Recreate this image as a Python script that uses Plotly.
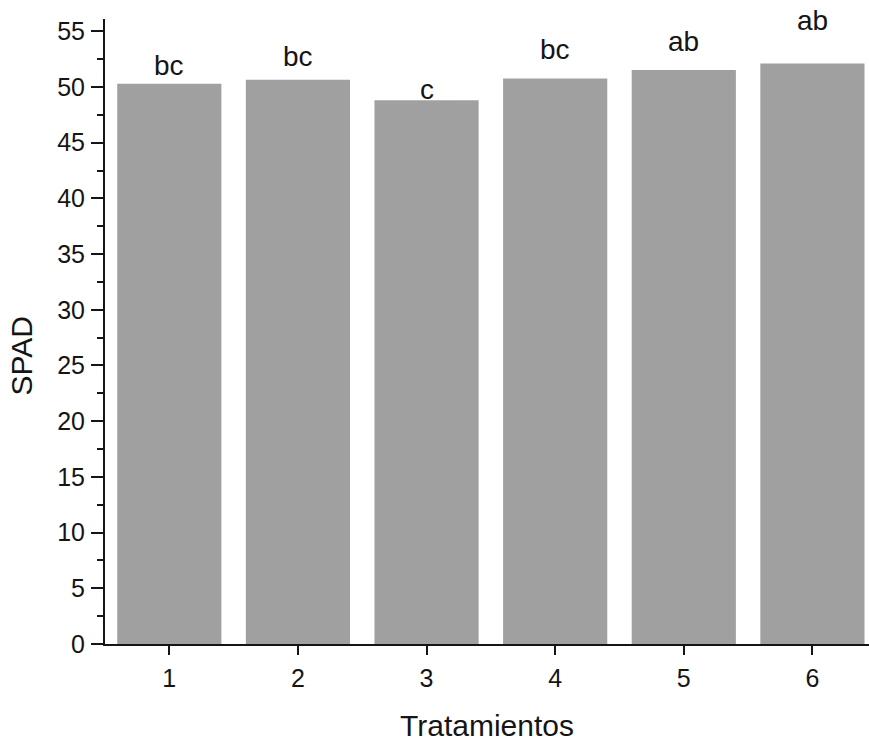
import plotly.graph_objects as go

tratamientos = [1, 2, 3, 4, 5, 6]
spad = [50.29, 50.65, 48.80, 50.77, 51.52, 52.10]
letras = ["bc", "bc", "c", "bc", "ab", "ab"]
letras_y = [51.1, 51.9, 48.95, 52.5, 53.2, 55.1]

FONT = "Liberation Sans, Arial"
INK = "#151515"

fig = go.Figure()
fig.add_trace(go.Bar(
    x=tratamientos, y=spad, width=0.81,
    marker=dict(color="#a0a0a0", line=dict(width=0)),
    showlegend=False, hoverinfo="skip",
))

for xv, yv, t in zip(tratamientos, letras_y, letras):
    fig.add_annotation(x=xv, y=yv, text=t, showarrow=False, xref="x", yref="y",
                       yanchor="bottom", yshift=-8,
                       font=dict(family=FONT, size=28, color=INK))

fig.add_annotation(text="Tratamientos", xref="paper", yref="paper", x=0.5, y=-0.13,
                   yanchor="middle", xanchor="center", showarrow=False,
                   font=dict(family=FONT, size=30, color=INK))
fig.add_annotation(text="SPAD", xref="paper", yref="paper", x=-0.109, y=0.461,
                   textangle=-90, yanchor="middle", xanchor="center", showarrow=False,
                   font=dict(family=FONT, size=30, color=INK))

fig.update_layout(
    width=869, height=742,
    margin=dict(l=105, r=0, t=19, b=98),
    plot_bgcolor="white", paper_bgcolor="white",
    font=dict(family=FONT, size=25, color=INK),
)
fig.update_xaxes(
    range=[0.5, 6.44], tickmode="array", tickvals=tratamientos,
    tickfont=dict(family=FONT, size=25, color=INK),
    ticks="outside", ticklen=9, tickwidth=2, tickcolor=INK,
    showline=True, linewidth=2, linecolor=INK,
    showgrid=False, zeroline=False, ticklabelstandoff=2,
)
fig.update_yaxes(
    range=[0, 56.1], dtick=5, tick0=0,
    tickfont=dict(family=FONT, size=25, color=INK),
    ticks="outside", ticklen=12, tickwidth=2, tickcolor=INK,
    minor=dict(dtick=2.5, ticks="outside", ticklen=6, tickwidth=2, tickcolor=INK),
    showline=True, linewidth=2, linecolor=INK,
    showgrid=False, zeroline=False, ticklabelstandoff=1,
)

fig.write_html("out.html", config={"displayModeBar": False},
               post_script="document.body.style.margin='0px';")
